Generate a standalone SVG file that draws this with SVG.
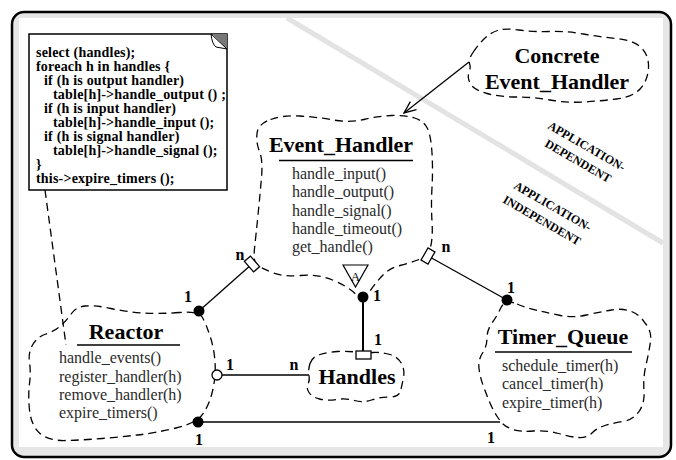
<svg xmlns="http://www.w3.org/2000/svg" width="676" height="460" viewBox="0 0 676 460">
<defs>
<style>
.f{font-family:"Liberation Serif","Times New Roman",serif}
.cl{fill:none;stroke:#000;stroke-width:1.3;stroke-dasharray:8 5}
.ti{font-size:22px;font-weight:bold;text-anchor:middle}
.me{font-size:16px;fill:#2a2a2a}
.lb{font-size:16px;font-weight:bold;text-anchor:middle}
.co{font-size:14px;font-weight:bold;letter-spacing:0.2px}
.ap{font-size:12px;font-weight:bold}
.ln{stroke:#000;stroke-width:1.3;fill:none}
.ul{stroke:#000;stroke-width:1.5}
.dot{fill:#000}
.sq{fill:#fff;stroke:#000;stroke-width:1.3}
</style>
<marker id="arr" markerWidth="14" markerHeight="12" refX="13" refY="6" orient="auto" markerUnits="userSpaceOnUse"><path d="M1,1 L13,6 L1,11" fill="none" stroke="#000" stroke-width="1.3"/></marker>
</defs>
<rect x="12" y="12" width="659" height="445" rx="12" fill="#e6e6e6" stroke="#000" stroke-width="2.5"/>
<rect x="19" y="18" width="644" height="429" fill="#fff"/>
<line x1="287" y1="18" x2="663" y2="243" stroke="#e3e3e3" stroke-width="5"/>
<g id="region-labels" class="f ap">
<text transform="translate(547,128) rotate(30)">APPLICATION-</text>
<text transform="translate(544,146) rotate(30)">DEPENDENT</text>
<text transform="translate(513,188) rotate(30)">APPLICATION-</text>
<text transform="translate(502,202) rotate(30)">INDEPENDENT</text>
</g>
<g id="note">
<rect x="29" y="34" width="198" height="156" fill="#fff" stroke="#000" stroke-width="1.5"/>
<polygon points="212,34 227,34 227,49" fill="#777"/>
<path d="M211,34 Q212,44 216,47 L227,49 Z" fill="#fff" stroke="#000" stroke-width="1"/>
<g class="f co">
<text x="36" y="57">select (handles);</text>
<text x="36" y="71">foreach h in handles {</text>
<text x="44" y="85">if (h is output handler)</text>
<text x="53" y="99">table[h]-&gt;handle_output () ;</text>
<text x="44" y="113">if (h is input handler)</text>
<text x="53" y="127">table[h]-&gt;handle_input ();</text>
<text x="44" y="141">if (h is signal handler)</text>
<text x="53" y="155">table[h]-&gt;handle_signal ();</text>
<text x="36" y="169">}</text>
<text x="36" y="183">this-&gt;expire_timers ();</text>
</g>
</g>
<g id="concrete-event-handler">
<path class="cl" d="M473,52.5 Q478,45 484,39 Q490,33 497.5,30.5 Q505,28 519,30 Q533,32 550,31.5 Q567,31 583.5,34 Q600,37 616.5,38.5 Q633,40 641,47.5 Q649,55 648.5,67.5 Q648,80 640.5,88.5 Q633,97 616.5,99 Q600,101 583.5,102 Q567,103 550,100 Q533,97 516.5,97 Q500,97 487,93.5 Q474,90 470.5,84 Q467,78 469,72.5 Q471,67 469.5,63.5 Q468,60 473,52.5 Z"/>
<text class="f ti" x="557" y="63">Concrete</text>
<text class="f ti" x="557" y="89">Event_Handler</text>
</g>
<g id="event-handler">
<path class="cl" d="M270.5,119.5 Q283,115 300,116 Q317,117 333.5,120 Q350,123 364,119.5 Q378,116 391.5,115.5 Q405,115 414.5,118 Q424,121 427.5,128.5 Q431,136 432,153 Q433,170 432,187.5 Q431,205 432,221.5 Q433,238 430.5,247 Q428,256 419,259.5 Q410,263 400,265.5 Q390,268 383.5,274.5 Q377,281 370,291 Q363,301 355,293.5 Q347,286 332.5,280 Q318,274 300.5,275.5 Q283,277 272,272.5 Q261,268 257,265 Q253,262 254.5,248.5 Q256,235 258,215 Q260,195 261.5,177.5 Q263,160 259.5,151.5 Q256,143 257,133.5 Q258,124 270.5,119.5 Z"/>
<text class="f ti" x="341" y="152">Event_Handler</text>
<line class="ul" x1="279" y1="160.5" x2="413" y2="160.5"/>
<g class="f me">
<text x="292" y="179">handle_input()</text>
<text x="292" y="197">handle_output()</text>
<text x="292" y="216">handle_signal()</text>
<text x="292" y="234">handle_timeout()</text>
<text x="292" y="252">get_handle()</text>
</g>
<polygon points="343,265 368,265 355.5,287" fill="#fff" stroke="#000" stroke-width="1.2"/>
<text class="f" x="355.5" y="281" font-size="13" text-anchor="middle">A</text>
</g>
<g id="reactor">
<path class="cl" d="M179.5,312.5 Q160,314 143.5,313 Q127,312 111,308.5 Q95,305 85.5,306 Q76,307 71.5,313.5 Q67,320 61,325.5 Q55,331 46,334 Q37,337 32.5,345 Q28,353 29.5,362.5 Q31,372 29.5,383.5 Q28,395 29.5,410 Q31,425 39.5,433 Q48,441 66,440.5 Q84,440 102,438.5 Q120,437 137.5,435 Q155,433 176,428 Q197,423 203.5,413 Q210,403 213,389 Q216,375 215,361.5 Q214,348 210,336 Q206,324 202.5,317.5 Q199,311 179.5,312.5 Z"/>
<text class="f ti" x="126" y="339">Reactor</text>
<line class="ul" x1="77" y1="345" x2="180" y2="345"/>
<g class="f me">
<text x="59" y="363">handle_events()</text>
<text x="59" y="381.5">register_handler(h)</text>
<text x="59" y="400">remove_handler(h)</text>
<text x="59" y="418">expire_timers()</text>
</g>
</g>
<g id="handles">
<path class="cl" d="M310,363.5 Q312,357 320,354.5 Q328,352 337.5,351.5 Q347,351 355.5,352 Q364,353 373,352.5 Q382,352 390,354.5 Q398,357 401.5,363.5 Q405,370 403.5,377.5 Q402,385 400.5,391 Q399,397 389.5,397 Q380,397 371.5,400 Q363,403 354.5,400.5 Q346,398 336.5,399.5 Q327,401 319.5,399 Q312,397 309,392.5 Q306,388 308,384 Q310,380 309,375 Q308,370 310,363.5 Z"/>
<text class="f ti" x="357" y="384">Handles</text>
</g>
<g id="timer-queue">
<path class="cl" d="M517,304 Q527,308 537.5,310.5 Q548,313 560.5,315.5 Q573,318 586.5,315 Q600,312 611.5,310 Q623,308 631.5,311.5 Q640,315 645,323 Q652,331 650.5,341.5 Q649,352 646,365 Q643,378 644,390.5 Q645,403 639,411.5 Q633,420 623,421.5 Q613,423 605,425.5 Q597,428 592,433 Q587,438 578.5,437.5 Q570,437 558.5,433.5 Q547,430 533.5,431 Q520,432 513,429.5 Q506,427 503,424 Q500,421 496.5,415.5 Q493,410 490,403 Q487,396 483.5,386.5 Q480,377 479,368.5 Q478,360 482.5,353 Q487,346 487,338 Q487,330 492,323 Q497,316 499.5,310.5 Q502,305 504.5,302.5 Q507,300 517,304 Z"/>
<text class="f ti" x="563" y="344">Timer_Queue</text>
<line class="ul" x1="495" y1="352" x2="632" y2="352"/>
<g class="f me">
<text x="502" y="371">schedule_timer(h)</text>
<text x="502" y="389">cancel_timer(h)</text>
<text x="502" y="408">expire_timer(h)</text>
</g>
</g>
<g id="connectors">
<line class="ln" x1="469" y1="62" x2="404" y2="113" marker-end="url(#arr)"/>
<line class="ln" x1="45" y1="190" x2="66" y2="345" stroke-dasharray="8 5"/>
<line class="ln" x1="252" y1="264" x2="199" y2="311"/>
<line class="ln" x1="428" y1="256" x2="507" y2="300"/>
<line x1="363" y1="297" x2="363" y2="351" stroke="#000" stroke-width="2"/>
<line class="ln" x1="217" y1="375" x2="309" y2="375"/>
<line class="ln" x1="198" y1="422" x2="500" y2="422"/>
<rect class="sq" x="-4" y="-7" width="8" height="14" transform="translate(252,264) rotate(139)"/>
<rect class="sq" x="-4" y="-7" width="8" height="14" transform="translate(428,256) rotate(30)"/>
<rect class="sq" x="356" y="351" width="15" height="8"/>
<circle class="dot" cx="199" cy="311" r="5.5"/>
<circle class="dot" cx="507" cy="300" r="5.5"/>
<circle class="dot" cx="363" cy="297" r="5.5"/>
<circle class="dot" cx="198" cy="422" r="5.5"/>
<circle cx="217" cy="375" r="5" fill="#fff" stroke="#000" stroke-width="1.3"/>
<g class="f lb">
<text x="188" y="302">1</text>
<text x="240" y="260">n</text>
<text x="446" y="252">n</text>
<text x="511" y="293">1</text>
<text x="377" y="301">1</text>
<text x="378" y="345">1</text>
<text x="230" y="370">1</text>
<text x="294" y="370">n</text>
<text x="199" y="445">1</text>
<text x="491" y="443">1</text>
</g>
</g>
</svg>
